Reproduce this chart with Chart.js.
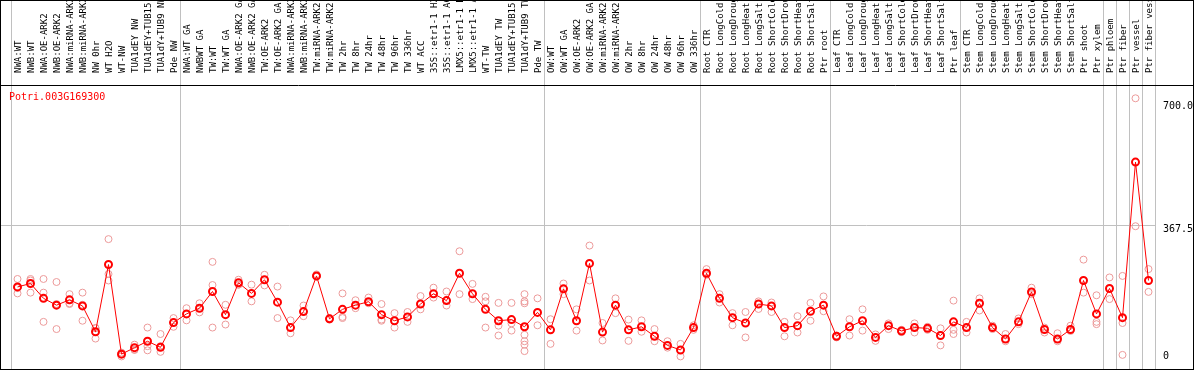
<!DOCTYPE html>
<html>
<head>
<meta charset="utf-8">
<script src="https://cdn.jsdelivr.net/npm/chart.js@4/dist/chart.umd.min.js"></script>
<style>
  html, body { margin: 0; padding: 0; background: #fff; }
  #myChart { display: block; }
</style>
</head>
<body>
<canvas id="myChart" width="1194" height="370"></canvas>
<script>
var geneName = "Potri.003G169300";

var xValues = [
  "NWA:WT", "NWB:WT", "NWA:OE-ARK2", "NWB:OE-ARK2", "NWA:miRNA-ARK2", "NWB:miRNA-ARK2",
  "NW 0hr", "WT H2O", "WT-NW", "TUA1dEY NW", "TUA1dEY+TUB15", "TUA1dY+TUB9 NW", "Pde NW",
  "NWA:WT GA", "NWBWT GA", "TW:WT", "TW:WT GA", "NWA:OE-ARK2 GA", "NWB:OE-ARK2 GA",
  "TW:OE-ARK2", "TW:OE-ARK2 GA", "NWA:miRNA-ARK2 GA", "NWB:miRNA-ARK2 GA", "TW:miRNA-ARK2",
  "TW:miRNA-ARK2", "TW 2hr", "TW 8hr", "TW 24hr", "TW 48hr", "TW 96hr", "TW 336hr", "WT ACC",
  "35S::etr1-1 H2O", "35S::etr1-1 ACC", "LMX5::etr1-1 H2O", "LMX5::etr1-1 ACC", "WT-TW",
  "TUA1dEY TW", "TUA1dEY+TUB15", "TUA1dY+TUB9 TW", "Pde TW",
  "OW:WT", "OW:WT GA", "OW:OE-ARK2", "OW:OE-ARK2 GA", "OW:miRNA-ARK2", "OW:miRNA-ARK2",
  "OW 2hr", "OW 8hr", "OW 24hr", "OW 48hr", "OW 96hr", "OW 336hr",
  "Root CTR", "Root LongCold", "Root LongDrought", "Root LongHeat", "Root LongSalt",
  "Root ShortCold", "Root ShortDrought", "Root ShortHeat", "Root ShortSalt", "Ptr root",
  "Leaf CTR", "Leaf LongCold", "Leaf LongDrought", "Leaf LongHeat", "Leaf LongSalt",
  "Leaf ShortCold", "Leaf ShortDrought", "Leaf ShortHeat", "Leaf ShortSalt", "Ptr leaf",
  "Stem CTR", "Stem LongCold", "Stem LongDrought", "Stem LongHeat", "Stem LongSalt",
  "Stem ShortCold", "Stem ShortDrought", "Stem ShortHeat", "Stem ShortSalt", "Ptr shoot", "Ptr xylem",
  "Ptr phloem", "Ptr fiber", "Ptr vessel", "Ptr fiber vessel"
];

// mean expression per sample
var meanValues = [
  203, 212, 173, 155, 169, 153, 85, 262, 26, 43, 60, 44, 109,
  132, 147, 191, 130, 214, 186, 222, 163, 96, 138, 232, 119, 144, 155, 164, 130,
  114, 124, 158, 185, 167, 239, 185, 144, 114, 117, 98, 136,
  90, 198, 114, 265, 84, 155, 90, 98, 73, 49, 37, 96,
  239, 173, 122, 108, 158, 153, 96, 101, 139, 155,
  73, 98, 114, 70, 101, 87, 96, 94, 75, 111,
  96, 160, 96, 66, 111, 190, 91, 66, 91, 220, 132,
  199, 122, 532, 220
];

// individual replicates per sample
var repValues = [
  [224, 200, 186], [224, 220, 188], [224, 188, 111], [216, 158, 92], [184, 160, 158],
  [188, 156, 114], [95, 94, 67], [329, 237, 220], [30, 27, 20], [51, 38, 37],
  [96, 47, 36], [79, 47, 32], [121, 98],
  [147, 115], [160, 136], [269, 208, 96], [156, 104], [222, 209, 209], [209, 165],
  [235, 207], [204, 121], [115, 81], [154, 126], [236, 230], [121, 117], [186, 124, 121],
  [168, 147], [175, 160], [158, 117, 114], [134, 96], [137, 111], [179, 144], [201, 175],
  [191, 154], [297, 184], [211, 171], [177, 165, 96], [161, 101, 75], [161, 107, 88],
  [184, 165, 160, 77, 60, 51, 34], [173, 102],
  [118, 53], [212, 184], [144, 88], [312, 220], [108, 62], [173, 134], [117, 61],
  [115, 85], [92, 60], [60, 43], [53, 20], [102, 90],
  [250, 235], [184, 162], [134, 102], [137, 70], [165, 145], [162, 137], [111, 73],
  [126, 83], [161, 114], [178, 139],
  [75, 70], [118, 75], [144, 88], [61, 78], [107, 92], [90, 84], [107, 83], [98, 90],
  [94, 49], [167, 90, 79],
  [111, 83], [173, 141], [101, 92], [79, 60], [120, 105], [201, 184], [96, 83], [81, 60],
  [101, 87], [275, 188], [181, 111, 105],
  [228, 171], [232, 108, 24], [700, 363], [250, 190]
];

// sample index where each gray separator starts (last one = right edge)
var groupStarts = [0, 13, 41, 53, 63, 73, 84, 85, 86, 87, 88];

var yTicks = [700, 367.5, 0];
var yMax = 735;

var repPoints = [];
for (var i = 0; i < repValues.length; i++) {
  for (var j = 0; j < repValues[i].length; j++) {
    repPoints.push({x: i, y: repValues[i][j]});
  }
}

var decor = {
  id: 'decor',
  beforeDatasetsDraw: function(chart) {
    var ctx = chart.ctx, xs = chart.scales.x, ys = chart.scales.y, area = chart.chartArea;
    var half = (xs.getPixelForValue(1) - xs.getPixelForValue(0)) / 2;
    ctx.save();
    ctx.strokeStyle = '#c0c0c0';
    ctx.lineWidth = 1;
    ctx.beginPath();
    groupStarts.forEach(function(b) {
      var px = b < xValues.length ? xs.getPixelForValue(b) - half : xs.getPixelForValue(b - 1) + half;
      px = Math.round(px) + 0.5;
      ctx.moveTo(px, 0);
      ctx.lineTo(px, 370);
    });
    var gy = Math.round(ys.getPixelForValue(367.5)) + 0.5;
    ctx.moveTo(1, gy);
    ctx.lineTo(area.right, gy);
    ctx.stroke();
    ctx.restore();
  },
  afterDraw: function(chart) {
    var ctx = chart.ctx, ys = chart.scales.y, area = chart.chartArea;
    ctx.save();
    ctx.strokeStyle = '#000';
    ctx.lineWidth = 1;
    ctx.beginPath();
    ctx.moveTo(0, Math.round(area.top) + 0.5);
    ctx.lineTo(1194, Math.round(area.top) + 0.5);
    ctx.stroke();
    ctx.strokeRect(0.5, 0.5, 1193, 369);

    ctx.font = '10px "DejaVu Sans Mono"';
    ctx.textBaseline = 'middle';
    ctx.textAlign = 'left';
    ctx.fillStyle = 'red';
    ctx.fillText(geneName, 9, area.top + 12);

    // value labels, kept clear of the top and bottom edges
    ctx.fillStyle = '#000';
    ctx.textBaseline = 'top';
    yTicks.forEach(function(v) {
      var py = ys.getPixelForValue(v);
      py = Math.min(Math.max(py, area.top + 16), area.bottom - 13);
      ctx.fillText(v === 0 ? '0' : v.toFixed(1), area.right + 8, py);
    });
    ctx.restore();
  }
};

new Chart("myChart", {
  type: "line",
  data: {
    labels: xValues,
    datasets: [{
      label: 'mean',
      data: meanValues,
      borderColor: 'red',
      borderWidth: 1,
      pointRadius: 3.5,
      pointBorderWidth: 2,
      pointBorderColor: 'red',
      pointBackgroundColor: 'rgba(0,0,0,0)',
      tension: 0,
      order: 1
    }, {
      label: 'replicates',
      data: repPoints,
      parsing: false,
      showLine: false,
      pointRadius: 3.5,
      pointBorderWidth: 1,
      pointBorderColor: '#ec9a9a',
      pointBackgroundColor: 'rgba(0,0,0,0)',
      order: 2
    }]
  },
  options: {
    responsive: false,
    animation: false,
    devicePixelRatio: 1,
    layout: {padding: {left: 11, right: 39, top: 0, bottom: 0}},
    plugins: {
      legend: {display: false},
      title: {display: false},
      tooltip: {enabled: false}
    },
    scales: {
      x: {
        position: 'top',
        offset: true,
        grid: {display: false},
        border: {display: false},
        ticks: {
          autoSkip: false,
          minRotation: 90,
          maxRotation: 90,
          padding: 4,
          labelOffset: 12,
          color: '#000',
          font: {family: 'DejaVu Sans Mono', size: 9}
        },
        afterFit: function(scale) { scale.height = 85; }
      },
      y: {
        display: false,
        min: 0,
        max: yMax
      }
    }
  },
  plugins: [decor]
});
</script>
</body>
</html>
